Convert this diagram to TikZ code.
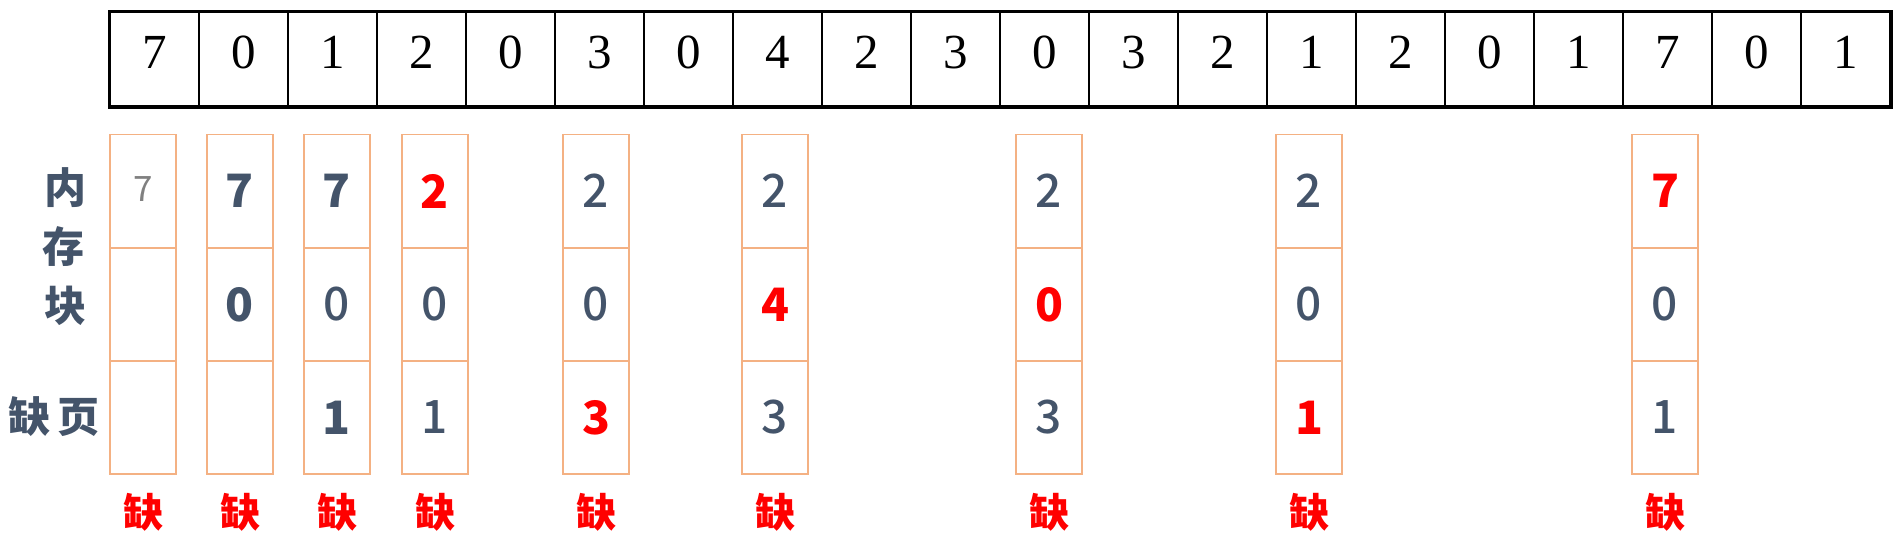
\documentclass[tikz,border=0pt]{standalone}
\usepackage{fontspec}
\setmainfont{Liberation Serif}
\newfontfamily\cjk{Noto Sans CJK SC}
\newfontfamily\cjkmed{Noto Sans CJK SC Medium}
\definecolor{slate}{HTML}{44546A}
\definecolor{boxorange}{HTML}{F4B183}
\definecolor{faint}{HTML}{808080}
\newcommand\pn[1]{\textcolor{slate}{\cjkmed #1}}
\newcommand\pb[1]{\textcolor{slate}{\bfseries #1}}
\newcommand\pr[1]{\raisebox{-7pt}{\textcolor{red}{\bfseries #1}}}
\newcommand\pf[1]{\raisebox{3pt}{\fontsize{35}{35}\selectfont\textcolor{faint}{#1}}}

\begin{document}
\begin{tikzpicture}[x=1pt,y=-1pt,
  refcell/.style={draw,line width=1.5pt,minimum width=89pt,minimum height=94pt,
    inner sep=0pt,text depth=14pt,font=\fontsize{49}{49}\selectfont},
  memcell/.style={draw=boxorange,line width=1.3pt,minimum width=66pt,minimum height=113pt,
    inner sep=0pt,font=\cjk\fontsize{46}{46}\selectfont},
  misslabel/.style={text=red,font=\cjk\bfseries\fontsize{40}{40}\selectfont},
  sidelabel/.style={text=slate,font=\cjk\bfseries\fontsize{42}{42}\selectfont}]
\useasboundingbox (0,0) rectangle (1902,546);
% reference string
\foreach \v [count=\i] in {7,0,1,2,0,3,0,4,2,3,0,3,2,1,2,0,1,7,0,1}
  \node[refcell] (r\i) at (65.5+89*\i,59) {\v};
\draw[line width=3.5pt] (r1.north west) rectangle (r20.south east);
% memory frames at each page fault
\foreach \n/\x/\a/\b/\c in {1/143/\pf{7}/{}/{},
    2/240/\pb{7}/\pb{0}/{},
    3/337/\pb{7}/\pn{0}/\pb{1},
    4/435/\pr{2}/\pn{0}/\pn{1},
    5/596/\pn{2}/\pn{0}/\pr{3},
    6/775/\pn{2}/\pr{4}/\pn{3},
    7/1049/\pn{2}/\pr{0}/\pn{3},
    8/1309/\pn{2}/\pn{0}/\pr{1},
    9/1665/\pr{7}/\pn{0}/\pn{1}} {
  \node[memcell] (m\n-1) at (\x,191) {\a};
  \node[memcell] (m\n-2) at (\x,304.5) {\b};
  \node[memcell] (m\n-3) at (\x,417.5) {\c};
  \node[misslabel] (q\n) at (\x,512) {缺};
}
% side labels
\node[sidelabel] (nei) at (65,188) {内};
\node[sidelabel] (cun) at (63,247) {存};
\node[sidelabel] (kuai) at (65,306) {块};
\node[sidelabel] (que) at (30,417) {缺};
\node[sidelabel] (ye) at (78,417) {页};
\end{tikzpicture}
\end{document}
